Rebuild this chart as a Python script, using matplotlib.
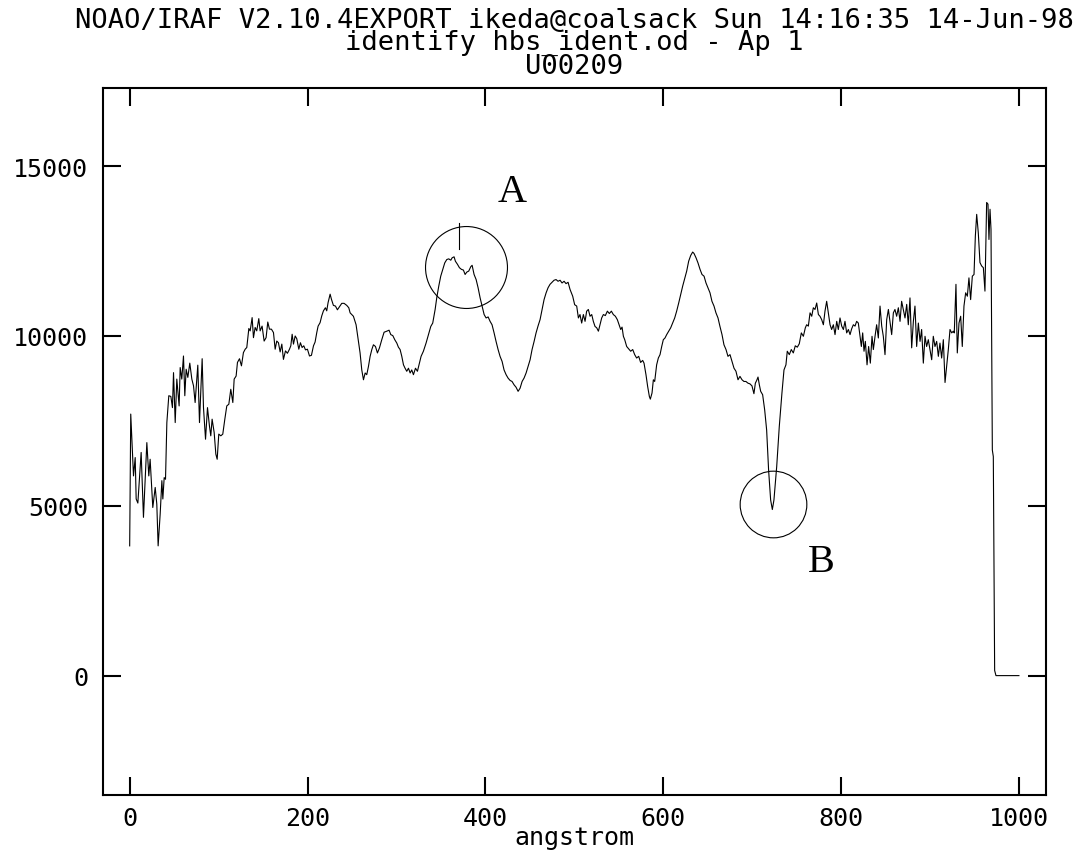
import matplotlib
matplotlib.use("Agg")
import matplotlib.pyplot as plt

plt.rcParams['font.family'] = ['DejaVu Sans Mono']

title_lines = ["NOAO/IRAF V2.10.4EXPORT ikeda@coalsack Sun 14:16:35 14-Jun-98",
               "identify hbs_ident.od - Ap 1",
               "U00209"]
x_label = "angstrom"
x_ticks = [0, 200, 400, 600, 800, 1000]
y_ticks = [0, 5000, 10000, 15000]

wavelength = [
    0, 1.2, 4.3, 6.2, 7.3, 9.2, 12.9, 15.5, 19.3, 21.5, 23.0, 26.0, 28.7, 30.5, 32.0, 34.3, 36.2, 37.3, 38.8, 40.3,
    41.8, 44.0, 46.3, 48.1, 49.3, 51.2, 53.0, 55.6, 56.8, 58.6, 60.5, 62.0, 63.5, 65.4, 67.6, 69.9, 71.8, 73.6, 76.6, 78.5,
    81.5, 83.0, 85.3, 87.5, 89.7, 91.2, 92.7, 95.0, 96.9, 98.4, 100.2, 102.5, 104.7, 107.0, 109.2, 111.5, 113.7, 116.0, 117.5, 119.7,
    121.2, 123.5, 125.7, 127.9, 129.9, 131.7, 134.0, 135.5, 137.7, 139.2, 141.1, 142.9, 145.2, 146.7, 148.9, 151.2, 153.4, 155.3, 157.2, 159.4,
    161.7, 163.6, 165.4, 167.3, 169.2, 171.1, 172.9, 175.2, 177.4, 179.7, 181.2, 182.7, 184.2, 186.1, 187.9, 190.2, 192.0, 193.9, 195.8, 197.7,
    199.9, 202.2, 204.4, 206.7, 208.5, 210.4, 211.9, 214.1, 216.0, 217.9, 220.1, 221.6, 223.1, 225.4, 226.9, 229.1, 231.4, 233.6, 235.9, 238.5,
    241.1, 244.1, 246.4,
    247.9, 251.6, 254.6, 259.1, 261.0, 262.9, 264.8, 266.6, 268.5, 270.4, 272.3, 274.1, 276.4, 278.6, 280.9, 283.5, 286.1, 289.1, 291.7, 293.6,
    295.9, 298.1, 300.4, 302.2, 304.1, 306.0, 307.9, 309.7, 311.6, 313.5, 315.4, 317.2, 319.1, 321.4, 323.6, 325.8, 327.7, 330.3, 333.3, 336.0,
    338.6, 340.8, 343.5, 345.3, 347.6, 349.8, 352.1, 354.3, 356.6, 358.8, 361.1, 362.6, 364.8, 366.3, 368.6, 370.8, 373.1, 375.3, 377.2, 379.1,
    381.3, 383.6, 385.1, 387.3, 389.6, 391.8, 394.1, 396.3, 398.6, 400.8, 403.1, 405.3, 407.5, 409.8, 412.0, 414.3, 416.5, 418.8, 421.0, 423.3,
    425.5, 427.8, 430.0, 432.3, 434.5, 436.8, 439.0, 441.3, 443.5, 445.8, 448.0, 450.3, 452.5, 454.8, 457.0, 459.3, 461.5, 463.8, 466.0, 468.3,
    470.5, 472.7, 475.0, 477.2, 479.5, 481.7, 484.0, 486.2, 488.5, 490.7, 493.0,
    495.2, 498.2, 500.4, 502.7, 504.6, 506.4, 508.3, 510.2, 512.1, 513.9, 515.8, 517.7, 519.6, 521.4, 523.3, 525.2, 527.1, 528.9, 530.8, 532.7,
    534.9, 537.2, 539.4, 541.7, 543.9, 546.2, 548.4, 550.7, 552.2, 553.7, 555.2, 556.7, 558.9, 561.2, 563.4, 565.7, 567.9, 570.1, 572.4, 574.6,
    576.9, 578.4, 580.6, 582.5, 584.4, 585.5, 587.4, 588.9, 590.4, 592.6, 594.5, 596.4, 598.3, 600.1, 602.0, 603.9, 606.1, 608.4, 610.6, 612.9,
    615.1, 617.4, 619.6, 621.9, 624.1, 626.4, 628.6, 630.9, 633.1, 634.6, 636.9, 639.1, 641.4, 643.6, 645.9, 648.1, 650.3, 652.6, 654.8, 657.1,
    659.3, 661.6, 663.8, 666.1, 668.3, 670.6, 672.8, 675.1, 677.3, 679.6, 681.8, 684.1, 686.3, 688.6, 690.8, 693.0, 695.3, 697.5, 699.8, 702.0,
    703.6, 705.1, 706.6, 708.1, 709.6, 711.8, 714.1, 716.3, 718.5, 720.8, 722.7, 724.5, 727.6, 730.5, 733.5, 735.8, 738.0, 739.5, 741.8, 744.0,
    746.3, 748.5, 750.8, 753.0,
    755.3, 757.6, 759.8, 761.3, 763.2, 765.1, 767.0, 768.8, 770.7, 772.6, 774.5, 776.3, 778.2, 780.1, 781.9, 783.8, 785.7, 787.6, 789.4, 791.3,
    793.2, 795.1, 796.9, 798.8, 800.7, 802.6, 804.4, 806.3, 808.2, 810.1, 811.9, 813.8, 815.7, 817.5, 819.4, 821.3, 822.8, 824.3, 825.8, 827.3,
    829.2, 831.0, 832.9, 834.8, 836.3, 838.2, 840.0, 841.9, 843.8, 845.7, 847.5, 849.4, 851.3, 853.2, 855.0, 856.9, 858.8, 860.6, 862.5, 864.4,
    866.3, 868.1, 870.0, 871.9, 873.8, 875.6, 877.5, 879.4, 881.3, 883.1, 885.0, 886.9, 888.8, 890.6, 892.5, 894.4, 896.2, 898.1, 900.0, 901.9,
    903.7, 905.6, 907.5, 909.4, 911.2, 913.1, 915.0, 916.9, 918.7, 920.6, 922.5, 924.4, 926.2, 927.3, 929.2, 930.7, 932.6, 934.5, 936.3, 938.2,
    940.1, 942.0, 943.8, 945.7, 947.6, 949.5, 951.0, 952.5, 954.3, 956.2, 958.1, 960.0, 961.8, 963.7, 965.2, 966.3, 967.5, 968.6, 970.1, 971.2,
    972.7, 974.2, 1000.0,
]

flux = [
    3820, 7700, 5880, 6420, 5200, 5080, 6570, 4660, 6860, 5880, 6370, 4950, 5540, 5050, 3820, 4760, 5740, 5200, 5830, 5780,
    7450, 8240, 8220, 7890, 8920, 7450, 8730, 7940, 9070, 8730, 9410, 8240, 9020, 8780, 9200, 8730, 8530, 8040, 9140, 7450,
    9330, 7890, 6960, 7890, 7350, 7060, 7550, 7160, 6520, 6370, 7110, 7060, 7110, 7550, 7940, 7990, 8430, 8040, 8730, 8820,
    9220, 9330, 9120, 9510, 9610, 9660, 10220, 10150, 10540, 9950, 10250, 10150, 10510, 10150, 10290, 9850, 9950, 10410, 10200, 10200,
    10100, 9610, 9850, 9800, 9530, 9760, 9310, 9560, 9490, 9610, 9710, 10050, 9760, 10000, 9920, 9610, 9800, 9660, 9710, 9590,
    9610, 9410, 9430, 9710, 9820, 10100, 10290, 10390, 10590, 10740, 10830, 10740, 10980, 11230, 11080, 10900, 10880, 10770, 10860, 10960,
    10960, 10900, 10830,
    10680, 10580, 10330, 9500, 9000, 8710, 8910, 8860, 9100, 9400, 9600, 9740, 9690, 9500, 9650, 9890, 10110, 10140, 10170, 10040,
    10010, 9890, 9790, 9670, 9600, 9400, 9150, 9050, 8960, 9050, 8910, 9000, 8860, 9050, 8960, 9200, 9400, 9550, 9790, 10040,
    10280, 10380, 10780, 11120, 11470, 11760, 11960, 12150, 12250, 12270, 12230, 12300, 12330, 12200, 12110, 12010, 11960, 11940, 11810, 11880,
    11910, 12040, 12080, 11810, 11660, 11420, 11120, 10880, 10630, 10530, 10560, 10430, 10330, 10090, 9840, 9600, 9400, 9250, 9000, 8860,
    8760, 8690, 8660, 8560, 8490, 8370, 8460, 8660, 8760, 8910, 9100, 9300, 9600, 9840, 10090, 10300, 10480, 10780, 11070, 11270,
    11420, 11520, 11580, 11640, 11660, 11610, 11640, 11560, 11610, 11540, 11580,
    11370, 11170, 10920, 10880, 10530, 10630, 10380, 10630, 10430, 10730, 10780, 10580, 10630, 10430, 10280, 10240, 10140, 10330, 10530, 10630,
    10600, 10730, 10660, 10730, 10630, 10580, 10480, 10300, 10190, 10260, 9990, 9890, 9690, 9620, 9550, 9600, 9450, 9350, 9400, 9220,
    9280, 9200, 8860, 8510, 8220, 8140, 8320, 8710, 8660, 9150, 9350, 9450, 9690, 9890, 9940, 10040, 10140, 10240, 10380, 10530,
    10730, 10970, 11220, 11470, 11680, 11910, 12200, 12370, 12470, 12430, 12300, 12150, 11960, 11810, 11760, 11560, 11420, 11270, 11020, 10880,
    10680, 10530, 10280, 10040, 9740, 9600, 9400, 9450, 9250, 9050, 8960, 8710, 8810, 8710, 8660, 8660, 8610, 8590, 8530, 8300,
    8610, 8690, 8790, 8560, 8370, 8270, 7820, 7230, 6050, 5170, 4890, 5170, 6150, 7330, 8320, 9000, 9150, 9550, 9450, 9600,
    9500, 9710, 9670, 9770,
    10090, 9990, 10240, 10330, 10290, 10680, 10580, 10830, 10780, 10970, 10630, 10580, 10480, 10330, 10730, 11020, 10680, 10330, 10190, 10330,
    10040, 10430, 10190, 10530, 10290, 10190, 10430, 10090, 10190, 10040, 10210, 10330, 10290, 10430, 10380, 9990, 9690, 10090, 9550, 9840,
    9150, 9690, 9200, 9990, 9600, 9990, 10330, 9940, 10880, 10290, 9990, 9450, 10480, 10780, 10430, 10040, 10680, 10780, 10580, 10830,
    10430, 11020, 10780, 10530, 10930, 10330, 11120, 9650, 10430, 10880, 9690, 10380, 9840, 10190, 9200, 9990, 9690, 9890, 9600, 9300,
    9990, 9690, 9840, 9400, 9790, 9350, 9890, 8630, 9100, 9600, 10190, 10090, 10140, 10090, 11520, 9500, 10380, 10580, 9690, 10880,
    11270, 11170, 11710, 11070, 11760, 11810, 12940, 13580, 13040, 12160, 12060, 12010, 11320, 13930, 13880, 12840, 13730, 13140, 6640, 6450,
    150, 0, 0,
]

# identified feature mark
feature_x = [370.0]
feature_mark_y = [12570, 13340]

# hand-drawn annotations
circle_x = [378.3, 723.8]
circle_y = [12044, 5050]
circle_sizes = [59, 48]
label_text = ["A", "B"]
label_x = [429.7, 778.0]
label_y = [14265, 3360]

fig = plt.figure(figsize=(10.74, 8.54), dpi=100)
W, H = 1074, 854
ax = fig.add_axes([103 / W, 1 - 795.5 / H, (1045.6 - 103) / W, (795.5 - 89) / H])

ax.plot(wavelength, flux, color='black', lw=0.8)

for fx in feature_x:
    ax.plot([fx, fx], feature_mark_y, color='black', lw=0.8)

for cx, cy, cs in zip(circle_x, circle_y, circle_sizes):
    ax.plot([cx], [cy], marker='o', ms=cs, mfc='none', mec='black', mew=0.8, ls='none')

for t, lx, ly in zip(label_text, label_x, label_y):
    ax.text(lx, ly, t, ha='center', va='center', fontsize=29, family=['Liberation Serif'])

ax.set_xlim(-30, 1030)
ax.set_ylim(-3500, 17300)
ax.set_xticks(x_ticks)
ax.set_yticks(y_ticks)
ax.tick_params(direction='in', length=13, width=1.5, top=True, right=True, labelsize=18)
ax.tick_params(axis='y', pad=10.5)
ax.tick_params(axis='x', pad=8.5)
for s in ax.spines.values():
    s.set_linewidth(1.5)

ax.set_xlabel(x_label, fontsize=18, va='baseline')
ax.xaxis.set_label_coords(0.5, -(845 - 795.5) / (795.5 - 89))

baselines = [28, 50, 74]
for line, b in zip(title_lines, baselines):
    fig.text(574 / W, 1 - b / H, line, ha='center', va='baseline', fontsize=19.5)

fig.savefig("out.png", dpi=100)
